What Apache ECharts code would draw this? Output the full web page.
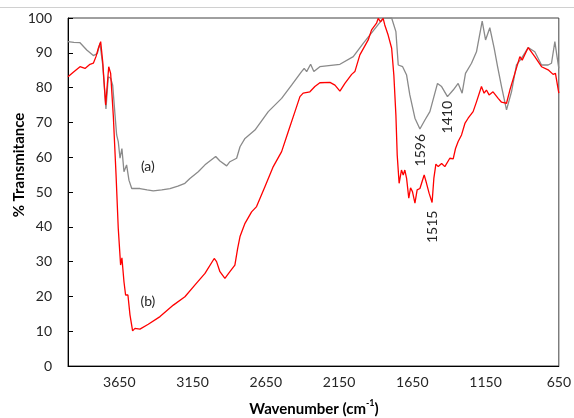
<!DOCTYPE html>
<html>
<head>
<meta charset="utf-8">
<script src="https://cdn.jsdelivr.net/npm/echarts@6/dist/echarts.min.js"></script>
<style>html,body{margin:0;padding:0;background:#fff}#c{width:574px;height:418px}</style>
</head>
<body>
<div id="c"></div>
<script>
// Spectrum (a) - gray
var wnA = [4000,3960,3918,3872,3827,3800,3782,3763,3741,3725,3709,3695,3679,3668,3657,3645,3632,3618,3600,3584,3565,3509,3460,3418,3360,3304,3250,3202,3168,3111,3065,2992,2963,2917,2895,2849,2826,2792,2724,2633,2542,2474,2406,2388,2371,2344,2322,2281,2144,2053,1985,1894,1849,1791,1762,1746,1716,1689,1667,1632,1598,1564,1530,1496,1478,1450,1410,1371,1337,1310,1287,1246,1212,1173,1150,1121,1091,1068,1041,1007,973,939,905,859,814,768,723,700,677,664,650];
var tA  = [93.2,93.0,92.9,90.8,89.2,89.8,92.7,86.5,73.9,83.1,82.7,80.7,72.1,66.4,64.5,59.7,62.5,55.8,57.8,53.4,51.0,51.0,50.6,50.3,50.6,51.0,51.7,52.5,53.9,55.8,57.8,60.2,58.9,57.5,58.7,59.7,63.0,65.4,67.8,73.1,76.9,80.7,84.6,85.5,84.6,86.7,84.6,86.0,86.7,88.9,92.7,97.5,99.9,100,96.1,86.5,86.0,83.6,77.9,71.2,68.1,70.7,73.1,78.4,81.2,80.3,77.4,79.3,81.2,78.4,84.1,87.0,90.3,99.1,93.7,97.2,91.3,86.0,80.3,73.6,78.8,86.5,88.4,91.5,90.3,86.5,86.5,87.0,93.2,89.4,85.5];
// Spectrum (b) - red
var wnB = [4000,3964,3918,3884,3850,3827,3809,3793,3777,3763,3743,3722,3709,3691,3672,3657,3641,3632,3618,3607,3591,3577,3559,3543,3509,3452,3372,3281,3202,3133,3065,3002,2986,2963,2929,2895,2861,2842,2826,2792,2747,2713,2656,2599,2542,2497,2451,2417,2395,2349,2315,2281,2212,2178,2144,2110,2064,2042,2008,1951,1928,1894,1883,1867,1849,1838,1815,1791,1776,1762,1753,1740,1724,1712,1701,1689,1674,1662,1649,1632,1617,1598,1583,1569,1553,1535,1515,1503,1489,1473,1450,1428,1394,1371,1355,1337,1314,1291,1269,1235,1212,1178,1160,1144,1126,1099,1064,1041,1007,984,950,916,900,859,814,768,723,689,673,650];
var tB  = [83.1,84.4,86.0,85.5,86.7,87.0,88.9,91.3,93.2,87.4,75.0,86.0,84.1,72.1,54.9,39.6,29.0,31.1,24.2,20.4,20.4,14.7,10.1,10.8,10.6,12.0,14.2,17.5,19.9,23.3,26.6,30.9,30.0,27.1,25.2,27.1,29.0,33.8,37.2,41.0,44.3,45.8,51.5,57.3,61.6,67.3,73.1,77.4,78.4,78.8,80.3,81.4,81.5,80.7,79.0,81.2,83.8,84.6,89.4,93.7,96.6,98.5,99.9,98.9,99.9,98.0,95.1,91.3,83.6,72.1,60.6,52.5,56.3,54.9,56.3,53.9,48.2,51.2,50.1,46.8,50.6,51.0,53.0,54.9,52.5,49.6,47.0,53.9,58.0,57.3,58.2,57.3,59.7,59.5,62.5,64.5,66.4,69.7,71.2,73.1,75.9,80.3,78.4,79.3,77.9,78.8,76.9,75.8,75.5,79.3,84.1,88.9,87.9,91.5,88.9,86.0,85.1,83.8,84.1,78.4];
var xTickLabels = [650,1150,1650,2150,2650,3150,3650];
var peakLabels = [
  {text:'1596', wn:1596, t:62},
  {text:'1410', wn:1410, t:71.5},
  {text:'1515', wn:1515, t:40}
];
var curveLabels = [{text:'(a)', wn:3455, t:57.2}, {text:'(b)', wn:3455, t:18.4}];

function pairs(xs, ys){ var r=[]; for(var i=0;i<xs.length;i++) r.push([xs[i], ys[i]]); return r; }

var chart = echarts.init(document.getElementById('c'));
var font = 'Lato';
var option = {
  animation: false,
  backgroundColor: '#fff',
  grid: {left: 68, right: 15, top: 18, bottom: 52, show: true, borderColor: '#404040', borderWidth: 1, backgroundColor: 'transparent'},
  xAxis: {
    type: 'value', inverse: true, min: 650, max: 4000, interval: 50,
    axisLine: {show: true, lineStyle: {color: '#000', width: 1}},
    axisTick: {show: false},
    splitLine: {show: false},
    axisLabel: {
      color: '#262626', fontFamily: font, fontSize: 14, margin: 9,
      formatter: function(v){ return xTickLabels.indexOf(v) >= 0 ? String(v) : ''; }
    }
  },
  yAxis: {
    type: 'value', min: 0, max: 100, interval: 10,
    axisLine: {show: true, lineStyle: {color: '#000', width: 1}},
    axisTick: {show: true, inside: true, length: 5, lineStyle: {color: '#000'}},
    splitLine: {show: false},
    axisLabel: {color: '#262626', fontFamily: font, fontSize: 14, margin: 16}
  },
  series: [
    {type: 'line', data: pairs(wnA, tA), showSymbol: false, symbol: 'none', lineStyle: {color: '#8a8a8a', width: 1.3}, z: 2},
    {type: 'line', data: pairs(wnB, tB), showSymbol: false, symbol: 'none', lineStyle: {color: '#ff0000', width: 1.3}, z: 3}
  ],
  graphic: []
};
chart.setOption(option);

function addTexts(){
  var g = [];
  g.push({type: 'line', shape: {x1: 0, y1: 7.5, x2: 574, y2: 7.5}, style: {stroke: '#d0d0d0', lineWidth: 1}, silent: true});
  curveLabels.forEach(function(c){
    var p = chart.convertToPixel({gridIndex: 0}, [c.wn, c.t]);
    g.push({type: 'text', x: p[0], y: p[1], style: {text: c.text, font: '14px ' + font, fill: '#262626', textAlign: 'center', textVerticalAlign: 'middle'}});
  });
  peakLabels.forEach(function(c){
    var p = chart.convertToPixel({gridIndex: 0}, [c.wn, c.t]);
    g.push({type: 'text', x: p[0], y: p[1], rotation: Math.PI/2, style: {text: c.text, font: '14px ' + font, fill: '#262626', textAlign: 'center', textVerticalAlign: 'middle'}});
  });
  g.push({type: 'text', x: 19, y: 165, rotation: Math.PI/2, style: {text: '% Transmitance', font: 'bold 15px ' + font, fill: '#000', textAlign: 'center', textVerticalAlign: 'middle'}});
  g.push({type: 'text', x: 314, y: 408, style: {
    text: '{m|Wavenumber (cm}{s|-1}{m|)}',
    rich: {m: {fontFamily: font, fontWeight: 'bold', fontSize: 15, fill: '#000', lineHeight: 18, verticalAlign: 'bottom'},
           s: {fontFamily: font, fontWeight: 'bold', fontSize: 9, fill: '#000', lineHeight: 18, verticalAlign: 'top'}},
    textAlign: 'center', textVerticalAlign: 'middle'}});
  chart.setOption({graphic: g});
}
addTexts();
</script>
</body>
</html>
